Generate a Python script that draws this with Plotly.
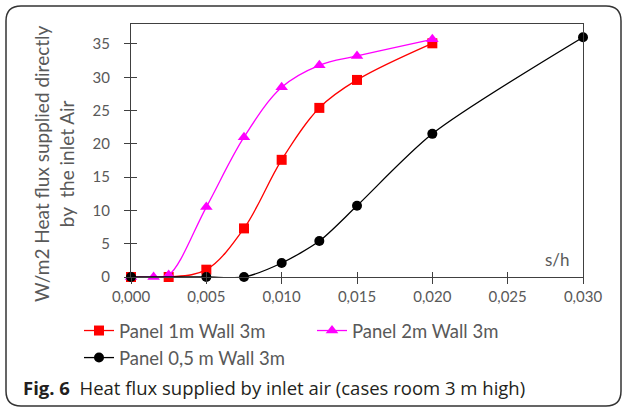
import plotly.graph_objects as go

# Data
x_red = [0.0, 0.0025, 0.005, 0.0075, 0.010, 0.0125, 0.015, 0.020]
y_red = [0.0, 0.0, 1.1, 7.3, 17.6, 25.4, 29.6, 35.1]

x_mag = [0.0, 0.0015, 0.0025, 0.005, 0.0075, 0.010, 0.0125, 0.015, 0.020]
y_mag = [0.0, 0.0, 0.3, 10.5, 21.0, 28.5, 31.8, 33.2, 35.7]

x_blk = [0.0, 0.005, 0.0075, 0.010, 0.0125, 0.015, 0.020, 0.030]
y_blk = [0.0, 0.0, 0.0, 2.1, 5.4, 10.7, 21.5, 36.0]

x_ticks = [0.0, 0.005, 0.010, 0.015, 0.020, 0.025, 0.030]
x_ticktext = ["0,000", "0,005", "0,010", "0,015", "0,020", "0,025", "0,030"]
y_ticks = [0, 5, 10, 15, 20, 25, 30, 35]

names = ["Panel 1m Wall 3m", "Panel 2m Wall 3m", "Panel 0,5 m Wall 3m"]

FONT = "Lato"
GREY = "#595959"

W, H = 624, 408
L, R, T, B = 131, W - 583, 24, H - 277
PW, PH = W - L - R, H - T - B


def px(x):
    return (x - L) / PW


def py(y):
    return (H - B - y) / PH


fig = go.Figure()
fig.add_trace(go.Scatter(x=x_red, y=y_red, name=names[0], mode="lines+markers",
                         line=dict(color="#FF0000", width=1.3, shape="spline", smoothing=1),
                         marker=dict(symbol="square", size=10, color="#FF0000"),
                         cliponaxis=False))
fig.add_trace(go.Scatter(x=x_mag, y=y_mag, name=names[1], mode="lines+markers",
                         line=dict(color="#FF00FF", width=1.3, shape="spline", smoothing=1),
                         marker=dict(symbol="triangle-up", size=11, color="#FF00FF"),
                         cliponaxis=False))
fig.add_trace(go.Scatter(x=x_blk, y=y_blk, name=names[2], mode="lines+markers",
                         line=dict(color="#000000", width=1.3, shape="spline", smoothing=0.75),
                         marker=dict(symbol="circle", size=10, color="#000000"),
                         cliponaxis=False))

axis_common = dict(showgrid=False, zeroline=False, linecolor="#404040", linewidth=1.2,
                   tickcolor="#404040", tickwidth=1.2, ticklen=6,
                   tickfont=dict(family=FONT, size=15, color=GREY))

fig.update_layout(
    width=W, height=H,
    margin=dict(l=L, r=R, t=T, b=B),
    paper_bgcolor="white", plot_bgcolor="white",
    font=dict(family=FONT, color=GREY),
    xaxis=dict(range=[0, 0.030], tickvals=x_ticks, ticktext=x_ticktext,
               ticks="outside", showline=True, mirror=True, **axis_common),
    yaxis=dict(range=[0, 38], tickvals=y_ticks, ticks="outside", showline=True,
               mirror=True, ticklabelstandoff=11, **axis_common),
    xaxis2=dict(range=[0, 0.030], tickvals=x_ticks, ticks="inside", overlaying="x",
                showticklabels=False, showline=False, showgrid=False, zeroline=False,
                tickcolor="#404040", tickwidth=1.2, ticklen=5, matches="x"),
    yaxis2=dict(range=[0, 38], tickvals=y_ticks, ticks="inside", overlaying="y",
                showticklabels=False, showline=False, showgrid=False, zeroline=False,
                tickcolor="#404040", tickwidth=1.2, ticklen=6),
    legend=dict(orientation="h", x=px(79), y=py(312), xanchor="left", yanchor="top",
                entrywidth=188, font=dict(family=FONT, size=18.5, color=GREY),
                itemwidth=30, tracegroupgap=0, bgcolor="rgba(0,0,0,0)"),
    showlegend=True,
)

# dummy trace for secondary axes so they render
fig.add_trace(go.Scatter(x=[None], y=[None], xaxis="x2", yaxis="y2", showlegend=False,
                         hoverinfo="skip"))

fig.add_annotation(text="W/m2 Heat flux supplied directly<br>by  the inlet Air",
                   xref="paper", yref="paper", x=px(54), y=py(164), textangle=-90,
                   xanchor="center", yanchor="middle", showarrow=False,
                   font=dict(family=FONT, size=19, color=GREY))
fig.add_annotation(text="s/h", xref="paper", yref="paper", x=px(557), y=py(259),
                   xanchor="center", yanchor="middle", showarrow=False,
                   font=dict(family=FONT, size=17, color=GREY))
fig.add_annotation(text="<b>Fig. 6</b>  Heat flux supplied by inlet air (cases room 3 m high)",
                   xref="paper", yref="paper", x=px(21), y=py(387),
                   xanchor="left", yanchor="middle", showarrow=False,
                   font=dict(family="Open Sans", size=18.5, color="#231f20"))

# rounded frame
x0, x1, y0, y1 = px(6), px(621), py(406), py(6)
rx, ry = 15 / PW, 15 / PH
path = (f"M {x0+rx},{y1} L {x1-rx},{y1} Q {x1},{y1} {x1},{y1-ry} "
        f"L {x1},{y0+ry} Q {x1},{y0} {x1-rx},{y0} L {x0+rx},{y0} "
        f"Q {x0},{y0} {x0},{y0+ry} L {x0},{y1-ry} Q {x0},{y1} {x0+rx},{y1} Z")
fig.add_shape(type="path", path=path, xref="paper", yref="paper",
              line=dict(color="#333333", width=1.5), layer="below")

fig.write_html("out.html")
